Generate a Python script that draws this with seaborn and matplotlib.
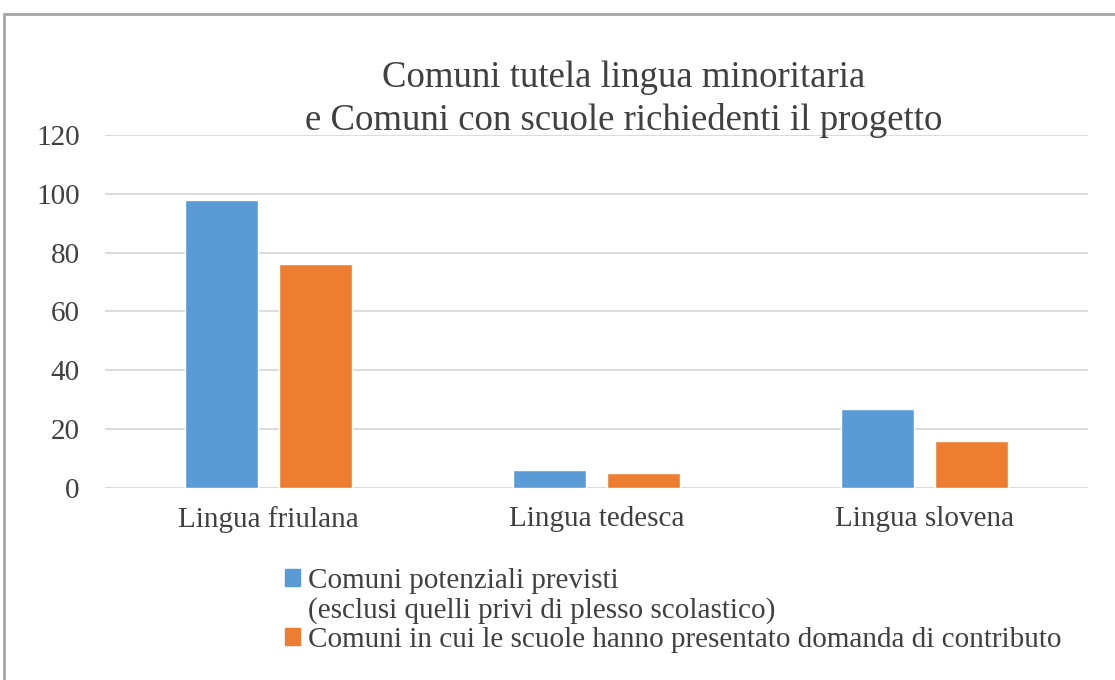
import pandas as pd
import matplotlib.pyplot as plt
import seaborn as sns
from matplotlib.patches import Rectangle


lingue = ['Lingua friulana', 'Lingua tedesca', 'Lingua slovena']
previsti = [98, 6, 27]
domanda = [76, 5, 16]
serie = ['Comuni potenziali previsti\n(esclusi quelli privi di plesso scolastico)',
         'Comuni in cui le scuole hanno presentato domanda di contributo']
colori = ['#5B9BD5', '#ED7D31']

df = pd.DataFrame({
    'Lingua': lingue * 2,
    'Comuni': previsti + domanda,
    'Serie': [serie[0]] * 3 + [serie[1]] * 3,
})

sns.set_style('white')
plt.rcParams['font.family'] = ['Liberation Serif', 'DejaVu Serif']

fig = plt.figure(figsize=(11.15, 6.8), dpi=100)
ax = fig.add_axes([0.094, 0.2824, 0.882, 0.5191])

sns.barplot(data=df, x='Lingua', y='Comuni', hue='Serie', palette=colori,
            saturation=1, width=0.573, gap=0.223, ax=ax, legend=False)

ax.set_ylim(0, 120)
ax.set_yticks(range(0, 121, 20))
ax.set_xlim(-0.5, 2.5)
ax.grid(axis='y', color='#D9D9D9', linewidth=1.3)
ax.set_axisbelow(True)
for s in ax.spines.values():
    s.set_visible(False)
ax.tick_params(axis='both', length=0, labelsize=21, labelcolor='#404040')
ax.tick_params(axis='x', pad=13)
ax.tick_params(axis='y', pad=18)
ax.set_xlabel('')
ax.set_ylabel('')

fig.text(0.559, 0.854, 'Comuni tutela lingua minoritaria\ne Comuni con scuole richiedenti il progetto',
         ha='center', va='center', fontsize=26.5, color='#404040', linespacing=1.3)

# legenda: la seconda riga della prima voce senza quadratino
righe = serie[0].split('\n') + [serie[1]]
handles = [Rectangle((0, 0), 1, 1, color=colori[0]),
           Rectangle((0, 0), 1, 1, alpha=0),
           Rectangle((0, 0), 1, 1, color=colori[1])]
fig.legend(handles, righe, loc='upper left', bbox_to_anchor=(0.2556, 0.1646),
           frameon=False, fontsize=21, labelcolor='#404040', handlelength=0.5,
           handleheight=0.5, handletextpad=0.28, labelspacing=0.1, borderpad=0,
           borderaxespad=0)

# cornice
fig.patches.append(Rectangle((4 / 1115, -0.1), 1.2, 0.1 + 1 - 14 / 680,
                             transform=fig.transFigure, fill=False,
                             edgecolor='#A6A6A6', linewidth=2))

plt.savefig('out.png', dpi=100)
